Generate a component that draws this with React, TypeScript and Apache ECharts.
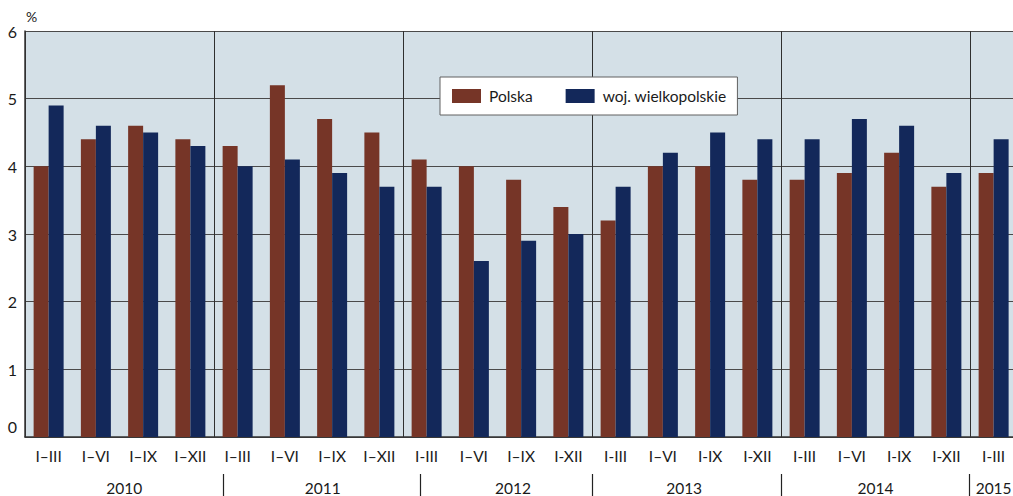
import React, { useEffect, useRef } from "react";
import * as echarts from "echarts";

const periods = [
  "I–III", "I–VI", "I–IX", "I–XII",
  "I–III", "I–VI", "I–IX", "I–XII",
  "I-III", "I–VI", "I–IX", "I-XII",
  "I-III", "I–VI", "I-IX", "I-XII",
  "I-III", "I–VI", "I-IX", "I-XII",
  "I-III",
];
const years = ["2010", "2011", "2012", "2013", "2014", "2015"];
const yearLabelPos = [2.1, 6.3, 10.33, 13.95, 18, 20.5];
const yearSeparatorPos = [4.2, 8.37, 12, 16, 19.98];

const polska = [
  4.0, 4.4, 4.6, 4.4,
  4.3, 5.2, 4.7, 4.5,
  4.1, 4.0, 3.8, 3.4,
  3.2, 4.0, 4.0, 3.8,
  3.8, 3.9, 4.2, 3.7,
  3.9,
];
const wielkopolskie = [
  4.9, 4.6, 4.5, 4.3,
  4.0, 4.1, 3.9, 3.7,
  3.7, 2.6, 2.9, 3.0,
  3.7, 4.2, 4.5, 4.4,
  4.4, 4.7, 4.6, 3.9,
  4.4,
];

const FONT = "Lato";
const FS = 15.5;

export default function App() {
  const ref = useRef<HTMLDivElement>(null);
  useEffect(() => {
    if (!ref.current) return;
    const chart = echarts.init(ref.current, null, { renderer: "svg" });
    chart.setOption({
      animation: false,
      textStyle: { fontFamily: FONT },
      grid: { left: 25, right: 2.75, top: 31, bottom: 59, show: true, backgroundColor: "#d4e0e7", borderWidth: 0 },
      legend: {
        left: 440,
        top: 77,
        backgroundColor: "#ffffff",
        borderColor: "#606060",
        borderWidth: 1,
        padding: [11, 11, 11, 12],
        itemWidth: 29,
        itemHeight: 14,
        itemGap: 33,
        icon: "rect",
        textStyle: { fontFamily: FONT, fontSize: FS, color: "#1a1a1a", padding: [0, 0, 0, 3] },
        data: ["Polska", "woj. wielkopolskie"],
      },
      xAxis: [
        {
          type: "category",
          data: periods,
          axisLine: { show: true, lineStyle: { color: "#333", width: 1.5 } },
          axisTick: { show: false },
          axisLabel: { interval: 0, margin: 11, fontFamily: FONT, fontSize: FS, color: "#1a1a1a" },
          splitLine: { show: true, interval: 3, lineStyle: { color: "#2f2f2f", width: 1 } },
        },
        {
          type: "value",
          min: 0,
          max: 21,
          position: "bottom",
          offset: 37,
          axisLine: { show: false },
          splitLine: { show: false },
          axisTick: { show: true, customValues: yearSeparatorPos, length: 22, lineStyle: { color: "#222", width: 1.2 } },
          axisLabel: {
            customValues: yearLabelPos,
            margin: 6,
            fontFamily: FONT,
            fontSize: FS,
            color: "#1a1a1a",
            formatter: (v: number) => {
              const i = yearLabelPos.findIndex((p) => Math.abs(p - v) < 1e-6);
              return i >= 0 ? years[i] : "";
            },
          },
        },
      ],
      yAxis: {
        type: "value",
        min: 0,
        max: 6,
        interval: 1,
        name: "%",
        nameLocation: "end",
        nameGap: 8,
        nameTextStyle: { fontFamily: FONT, fontSize: 14, color: "#1a1a1a", align: "left", padding: [0, 0, 0, 1] },
        axisLine: { show: true, lineStyle: { color: "#333", width: 1.5 } },
        axisTick: { show: false },
        axisLabel: {
          margin: 8,
          fontFamily: FONT,
          fontSize: 16,
          color: "#1a1a1a",
          formatter: (v: number) => (v === 0 ? "{z|0}" : String(v)),
          rich: { z: { fontFamily: FONT, fontSize: 16, color: "#1a1a1a", padding: [0, 0, 22, 0] } },
        },
        splitLine: { show: true, lineStyle: { color: "#4a4a4a", width: 1 } },
      },
      series: [
        {
          name: "Polska",
          type: "bar",
          data: polska,
          barWidth: 15,
          barGap: "0%",
          itemStyle: { color: "#763527" },
        },
        {
          name: "woj. wielkopolskie",
          type: "bar",
          data: wielkopolskie,
          barWidth: 15,
          barGap: "0%",
          itemStyle: { color: "#13285a" },
        },
      ],
    });
    return () => chart.dispose();
  }, []);
  return (
    <div style={{ position: "absolute", left: 0, top: 0, width: 1013, height: 496, overflow: "hidden" }}>
      <div ref={ref} style={{ width: 1020, height: 496 }} />
    </div>
  );
}
